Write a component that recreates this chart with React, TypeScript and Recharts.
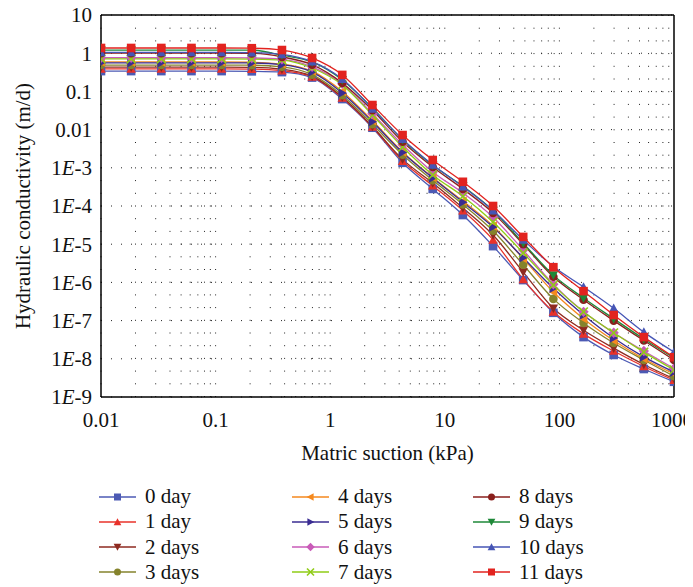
import { LineChart, Line, XAxis, YAxis, CartesianGrid, ReferenceLine, Legend, Label } from 'recharts';

const FONT = '"Liberation Serif", "DejaVu Serif", serif';
const FS = 21;

// matric suction (kPa), log-spaced points
const SUCTION = [0.01, 0.01833, 0.0336, 0.0616, 0.1129, 0.2069, 0.3793, 0.6952, 1.274, 2.336, 4.281, 7.848, 14.38, 26.37, 48.33, 88.59, 162.4, 297.6, 545.6, 1000];

// hydraulic conductivity (m/d) per curing time
const DAY_0 = [0.34, 0.34, 0.34, 0.34, 0.34, 0.335, 0.32, 0.23, 0.063, 0.0112, 1.35e-3, 2.8e-4, 5.8e-5, 8.9e-6, 1.15e-6, 1.6e-7, 3.7e-8, 1.26e-8, 5.4e-9, 2.5e-9];
const DAY_1 = [0.39, 0.39, 0.39, 0.39, 0.39, 0.385, 0.35, 0.24, 0.068, 0.0117, 1.5e-3, 3.4e-4, 7.6e-5, 1.3e-5, 1.2e-6, 1.7e-7, 4.5e-8, 1.6e-8, 6.3e-9, 2.75e-9];
const DAY_2 = [0.43, 0.43, 0.43, 0.43, 0.43, 0.425, 0.38, 0.25, 0.071, 0.012, 1.66e-3, 4e-4, 8.9e-5, 1.74e-5, 1.86e-6, 2.1e-7, 5.6e-8, 1.9e-8, 7.1e-9, 3e-9];
const DAY_3 = [0.49, 0.49, 0.49, 0.49, 0.49, 0.485, 0.44, 0.275, 0.079, 0.0138, 2.2e-3, 4.7e-4, 1.1e-4, 2.24e-5, 2.9e-6, 3.7e-7, 8.7e-8, 2.6e-8, 9.3e-9, 3.5e-9];
const DAY_4 = [0.59, 0.59, 0.59, 0.59, 0.59, 0.58, 0.52, 0.34, 0.1, 0.017, 2.6e-3, 5.6e-4, 1.35e-4, 3e-5, 4.2e-6, 5.6e-7, 1.12e-7, 3e-8, 1e-8, 4e-9];
const DAY_5 = [0.56, 0.56, 0.56, 0.56, 0.56, 0.555, 0.5, 0.32, 0.091, 0.016, 2.5e-3, 5.4e-4, 1.26e-4, 2.8e-5, 4.4e-6, 7e-7, 1.4e-7, 3.5e-8, 1.12e-8, 4.5e-9];
const DAY_6 = [0.76, 0.76, 0.76, 0.76, 0.76, 0.75, 0.69, 0.44, 0.158, 0.026, 4e-3, 7.8e-4, 2.2e-4, 5.1e-5, 7e-6, 8.9e-7, 1.7e-7, 4.8e-8, 1.6e-8, 5.6e-9];
const DAY_7 = [0.71, 0.71, 0.71, 0.71, 0.71, 0.7, 0.66, 0.41, 0.148, 0.024, 3.5e-3, 6.5e-4, 1.8e-4, 3.8e-5, 5.9e-6, 8.5e-7, 1.7e-7, 4.8e-8, 1.5e-8, 5.1e-9];
const DAY_8 = [1.0, 1.0, 1.0, 1.0, 1.0, 0.99, 0.8, 0.5, 0.166, 0.032, 4.8e-3, 1.05e-3, 2.8e-4, 6.6e-5, 1e-5, 1.4e-6, 3.5e-7, 1e-7, 3e-8, 9.3e-9];
const DAY_9 = [1.21, 1.21, 1.21, 1.21, 1.21, 1.2, 0.89, 0.59, 0.2, 0.037, 5.4e-3, 1.17e-3, 3.3e-4, 7.6e-5, 1.07e-5, 1.55e-6, 3.9e-7, 1.12e-7, 3.3e-8, 1.05e-8];
const DAY_10 = [1.05, 1.05, 1.05, 1.05, 1.05, 1.04, 0.93, 0.6, 0.21, 0.035, 5.6e-3, 1.2e-3, 3.2e-4, 7.6e-5, 1.3e-5, 2.6e-6, 7.6e-7, 2.1e-7, 5e-8, 1.5e-8];
const DAY_11 = [1.37, 1.37, 1.37, 1.37, 1.37, 1.35, 1.21, 0.75, 0.27, 0.044, 7.2e-3, 1.6e-3, 4.3e-4, 1e-4, 1.55e-5, 2.5e-6, 5.9e-7, 1.4e-7, 3.7e-8, 1.1e-8];

const X_TICKS = [0.01, 0.1, 1, 10, 100, 1000];
const X_TICK_LABELS = ['0.01', '0.1', '1', '10', '100', '1000'];
const Y_TICKS = [1e-9, 1e-8, 1e-7, 1e-6, 1e-5, 1e-4, 1e-3, 0.01, 0.1, 1, 10];
const Y_TICK_LABELS = ['1E-9', '1E-8', '1E-7', '1E-6', '1E-5', '1E-4', '1E-3', '0.01', '0.1', '1', '10'];

type Shape = 'square' | 'up' | 'down' | 'left' | 'right' | 'circle' | 'diamond' | 'cross';

const SERIES: { key: string; name: string; values: number[]; color: string; shape: Shape }[] = [
  { key: 'd0', name: '0 day', values: DAY_0, color: '#4c5ab4', shape: 'square' },
  { key: 'd1', name: '1 day', values: DAY_1, color: '#e8322a', shape: 'up' },
  { key: 'd2', name: '2 days', values: DAY_2, color: '#8e2a20', shape: 'down' },
  { key: 'd3', name: '3 days', values: DAY_3, color: '#85832c', shape: 'circle' },
  { key: 'd4', name: '4 days', values: DAY_4, color: '#f5891e', shape: 'left' },
  { key: 'd5', name: '5 days', values: DAY_5, color: '#3a2c92', shape: 'right' },
  { key: 'd6', name: '6 days', values: DAY_6, color: '#c95bb8', shape: 'diamond' },
  { key: 'd7', name: '7 days', values: DAY_7, color: '#8fcc16', shape: 'cross' },
  { key: 'd8', name: '8 days', values: DAY_8, color: '#8a1f1c', shape: 'circle' },
  { key: 'd9', name: '9 days', values: DAY_9, color: '#1e8838', shape: 'down' },
  { key: 'd10', name: '10 days', values: DAY_10, color: '#4655b5', shape: 'up' },
  { key: 'd11', name: '11 days', values: DAY_11, color: '#e2231f', shape: 'square' },
];

const data = SUCTION.map((x, i) => {
  const row: Record<string, number> = { x };
  SERIES.forEach((s) => {
    row[s.key] = s.values[i];
  });
  return row;
});

// vertical grid positions (1..9 within each decade)
const xGrid: number[] = [];
[0.01, 0.1, 1, 10, 100].forEach((d) => {
  [1, 2, 3, 4, 5, 6, 7, 8, 9].forEach((m) => xGrid.push(d * m));
});

function marker(shape: Shape, cx: number, cy: number, r: number, color: string, key?: string) {
  switch (shape) {
    case 'square':
      return <rect key={key} x={cx - r} y={cy - r} width={2 * r} height={2 * r} fill={color} />;
    case 'circle':
      return <circle key={key} cx={cx} cy={cy} r={r} fill={color} />;
    case 'up':
      return <polygon key={key} points={`${cx},${cy - r * 1.1} ${cx + r * 1.1},${cy + r * 0.9} ${cx - r * 1.1},${cy + r * 0.9}`} fill={color} />;
    case 'down':
      return <polygon key={key} points={`${cx},${cy + r * 1.1} ${cx + r * 1.1},${cy - r * 0.9} ${cx - r * 1.1},${cy - r * 0.9}`} fill={color} />;
    case 'left':
      return <polygon key={key} points={`${cx - r * 1.1},${cy} ${cx + r * 0.9},${cy - r * 1.1} ${cx + r * 0.9},${cy + r * 1.1}`} fill={color} />;
    case 'right':
      return <polygon key={key} points={`${cx + r * 1.1},${cy} ${cx - r * 0.9},${cy - r * 1.1} ${cx - r * 0.9},${cy + r * 1.1}`} fill={color} />;
    case 'diamond':
      return <polygon key={key} points={`${cx},${cy - r * 1.2} ${cx + r * 1.2},${cy} ${cx},${cy + r * 1.2} ${cx - r * 1.2},${cy}`} fill={color} />;
    case 'cross':
      return (
        <g key={key} stroke={color} strokeWidth={1.6}>
          <line x1={cx - r} y1={cy - r} x2={cx + r} y2={cy + r} />
          <line x1={cx - r} y1={cy + r} x2={cx + r} y2={cy - r} />
        </g>
      );
  }
}

function YTick({ x, y, payload }: any) {
  const idx = Y_TICKS.indexOf(payload.value);
  const label = Y_TICK_LABELS[idx] ?? '';
  const isExp = label.startsWith('1E');
  return (
    <text x={x} y={y} dy="0.35em" textAnchor="end" fontFamily={FONT} fontSize={FS} fill="#111">
      {isExp ? (
        <>
          <tspan>1</tspan>
          <tspan fontStyle="italic">E</tspan>
          <tspan>{label.slice(2)}</tspan>
        </>
      ) : (
        label
      )}
    </text>
  );
}

const COL_X = [0, 193, 374];

function LegendBox() {
  return (
    <div style={{ position: 'relative', width: 594, height: 100, fontFamily: FONT, fontSize: FS, color: '#111' }}>
      {SERIES.map((s, i) => {
        const col = Math.floor(i / 4);
        const row = i % 4;
        return (
          <div
            key={s.key}
            style={{ position: 'absolute', left: COL_X[col], top: row * 25.3, height: 25, display: 'flex', alignItems: 'center', whiteSpace: 'nowrap' }}
          >
            <svg width={37} height={14}>
              <line x1={0} y1={7} x2={37} y2={7} stroke={s.color} strokeWidth={1.5} />
              {marker(s.shape, 18.5, 7, 3.5, s.color)}
            </svg>
            <span style={{ marginLeft: 9 }}>{s.name}</span>
          </div>
        );
      })}
    </div>
  );
}

export default function App() {
  return (
    <div style={{ width: 693, height: 587, margin: '-8px 0 0 -8px' }}>
      <LineChart width={693} height={587} data={data} margin={{ top: 15, right: 19, bottom: 130, left: 13 }}>
        <CartesianGrid vertical={false} stroke="#222" strokeDasharray="1 9" />
        {xGrid.map((v) => (
          <ReferenceLine key={v} x={v} stroke="#222" strokeDasharray="1 11.7" ifOverflow="extendDomain" />
        ))}
        <XAxis
          dataKey="x"
          type="number"
          scale="log"
          domain={[0.01, 1000]}
          ticks={X_TICKS}
          tickFormatter={(v: number) => X_TICK_LABELS[X_TICKS.indexOf(v)] ?? ''}
          allowDataOverflow
          height={60}
          tickLine={false}
          tickSize={6}
          tickMargin={9}
          axisLine={{ stroke: '#000', strokeWidth: 1.5 }}
          tick={{ fontFamily: FONT, fontSize: FS, fill: '#111' }}
        >
          <Label
            content={({ viewBox }: any) => (
              <text x={viewBox.x + viewBox.width / 2} y={viewBox.y + 56} textAnchor="middle" dominantBaseline="central" fontFamily={FONT} fontSize={FS} fill="#111">
                Matric suction (kPa)
              </text>
            )}
          />
        </XAxis>
        <YAxis
          type="number"
          scale="log"
          domain={[1e-9, 10]}
          ticks={Y_TICKS}
          allowDataOverflow
          width={88}
          tickLine={false}
          tickSize={4}
          tickMargin={5}
          axisLine={{ stroke: '#000', strokeWidth: 1.5 }}
          tick={<YTick />}
        >
          <Label
            content={({ viewBox }: any) => {
              const cx = 23;
              const cy = viewBox.y + viewBox.height / 2;
              return (
                <text x={cx} y={cy} transform={`rotate(-90 ${cx} ${cy})`} textAnchor="middle" dominantBaseline="central" fontFamily={FONT} fontSize={FS} fill="#111">
                  Hydraulic conductivity (m/d)
                </text>
              );
            }}
          />
        </YAxis>
        <ReferenceLine y={10} stroke="#000" strokeWidth={1.5} />
        <ReferenceLine x={1000} stroke="#000" strokeWidth={1.5} />
        {SERIES.map((s) => (
          <Line
            key={s.key}
            dataKey={s.key}
            name={s.name}
            type="monotone"
            stroke={s.color}
            strokeWidth={1.3}
            isAnimationActive={false}
            dot={(p: any) => marker(s.shape, p.cx, p.cy, 4.3, s.color, `${s.key}-${p.index}`) as any}
            activeDot={false}
          />
        ))}
        <Legend
          layout="horizontal"
          verticalAlign="middle"
          align="center"
          wrapperStyle={{ top: 484, left: 99, width: 594, height: 102 }}
          content={() => <LegendBox />}
        />
      </LineChart>
    </div>
  );
}
